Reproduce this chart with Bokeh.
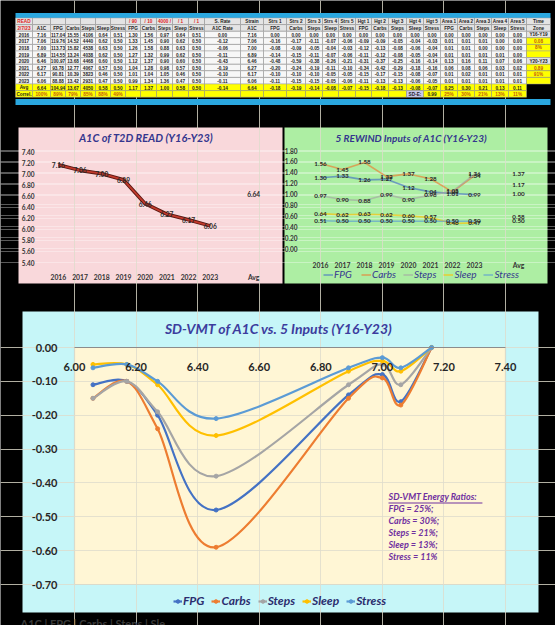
import numpy as np
from bokeh.plotting import figure
from bokeh.models import (Range1d, Legend, LegendItem, LinearAxis, Grid,
                          ColumnDataSource, FixedTicker, NumeralTickFormatter,
                          Label, BoxAnnotation)
from bokeh.embed import file_html
from bokeh.resources import INLINE
from bokeh.core.properties import value

# ---------------- data ----------------
years = ["2016", "2017", "2018", "2019", "2020", "2021", "2022", "2023"]
a1c = [7.16, 7.06, 7.00, 6.89, 6.46, 6.27, 6.17, 6.06]
a1c_avg = 6.64

fpg_raw = [117.04, 119.76, 113.73, 114.55, 100.97, 93.78, 90.81, 88.88]
carbs_raw = [15.55, 14.52, 15.82, 13.24, 13.68, 12.77, 10.39, 13.42]
steps_raw = [4106, 4440, 4538, 4038, 4468, 4067, 3823, 2931]
sleep_raw = [0.64, 0.62, 0.63, 0.62, 0.60, 0.57, 0.46, 0.47]
stress_raw = [0.51, 0.50, 0.50, 0.50, 0.50, 0.50, 0.50, 0.50]

inputs = ["FPG", "Carbs", "Steps", "Sleep", "Stress"]
norm_fpg = [1.30, 1.33, 1.26, 1.27, 1.12, 1.04, 1.01, 0.99]
norm_carbs = [1.56, 1.45, 1.58, 1.32, 1.37, 1.28, 1.04, 1.34]
norm_steps = [0.97, 0.90, 0.88, 0.99, 0.90, 0.98, 1.05, 1.36]
norm_sleep = [0.64, 0.62, 0.63, 0.62, 0.60, 0.57, 0.46, 0.47]
norm_stress = [0.51, 0.50, 0.50, 0.50, 0.50, 0.50, 0.50, 0.50]
norm_avg = [1.17, 1.37, 1.00, 0.58, 0.50]

s_rate = [0.00, -0.12, -0.06, -0.11, -0.43, -0.19, -0.10, -0.11]
strs_fpg = [0.00, -0.16, -0.08, -0.14, -0.48, -0.20, -0.10, -0.11]
strs_carbs = [0.00, -0.17, -0.09, -0.15, -0.59, -0.24, -0.10, -0.15]
strs_steps = [0.00, -0.11, -0.05, -0.11, -0.38, -0.19, -0.10, -0.15]
strs_sleep = [0.00, -0.07, -0.04, -0.07, -0.26, -0.11, -0.05, -0.05]
strs_stress = [0.00, -0.06, -0.03, -0.06, -0.21, -0.10, -0.05, -0.06]

hgt_fpg = [0.00, -0.09, -0.12, -0.11, -0.31, -0.34, -0.15, -0.11]
hgt_carbs = [0.00, -0.09, -0.13, -0.12, -0.37, -0.42, -0.17, -0.13]
hgt_steps = [0.00, -0.05, -0.08, -0.08, -0.25, -0.29, -0.15, -0.13]
hgt_sleep = [0.00, -0.04, -0.06, -0.05, -0.16, -0.18, -0.08, -0.06]
hgt_stress = [0.00, -0.03, -0.04, -0.04, -0.14, -0.16, -0.07, -0.05]

area_fpg = [0.00, 0.01, 0.01, 0.01, 0.13, 0.06, 0.01, 0.01]
area_carbs = [0.00, 0.01, 0.01, 0.01, 0.16, 0.08, 0.02, 0.01]
area_steps = [0.00, 0.01, 0.00, 0.01, 0.11, 0.06, 0.01, 0.01]
area_sleep = [0.00, 0.00, 0.00, 0.01, 0.07, 0.03, 0.01, 0.01]
area_stress = [0.00, 0.00, 0.00, 0.00, 0.06, 0.02, 0.01, 0.01]

time_zone = ["Y16-Y19", "0.08", "8%", "", "Y20-Y23", "0.89", "91%", ""]

avg_row = ["Avg", "6.64", "104.94", "13.67", "4050", "0.58", "0.50",
           "1.17", "1.37", "1.00", "0.58", "0.50", "-0.14", "6.64",
           "-0.18", "-0.19", "-0.14", "-0.08", "-0.07",
           "-0.15", "-0.18", "-0.13", "-0.08", "-0.07",
           "0.25", "0.30", "0.21", "0.13", "0.11"]
correl_row = (["Correl.", "100%", "89%", "79%", "85%", "88%", "49%"] + [""] * 15
              + ["SD-E:", "0.99", "25%", "30%", "21%", "13%", "11%"])

header1 = ["READ", "", "", "", "", "", "", "/ 90", "/ 10", "4000 /", "/ 1", "/ 1",
           "S. Rate", "Strain", "Strs 1", "Strs 2", "Strs 3", "Strs 4", "Strs 5",
           "Hgt 1", "Hgt 2", "Hgt 3", "Hgt 4", "Hgt 5",
           "Area 1", "Area 2", "Area 3", "Area 4", "Area 5", "Time"]
header2 = ["2/7/23", "A1C", "FPG", "Carbs", "Steps", "Sleep", "Stress",
           "FPG", "Carbs", "Steps", "Sleep", "Stress", "A1C Rate", "A1C",
           "FPG", "Carbs", "Steps", "Sleep", "Stress",
           "FPG", "Carbs", "Steps", "Sleep", "Stress",
           "FPG", "Carbs", "Steps", "Sleep", "Stress", "Zone"]

energy_pct = [25, 30, 21, 13, 11]
footer_text = "A1C  |  FPG  |  Carbs  |  Steps  |  Sle"

a1c_ticks = [5.4, 5.6, 5.8, 6.0, 6.2, 6.4, 6.6, 6.8, 7.0, 7.2, 7.4]
norm_ticks = [0.0, 0.2, 0.4, 0.6, 0.8, 1.0, 1.2, 1.4, 1.6, 1.8]
vmt_x_ticks = [6.0, 6.2, 6.4, 6.6, 6.8, 7.0, 7.2, 7.4]
vmt_y_ticks = [0.0, -0.1, -0.2, -0.3, -0.4, -0.5, -0.6, -0.7]
cats = years + [" ", "Avg"]

# ---------------- styles / page geometry ----------------
W, H = 555, 625
FONT = "Lato"
NAVY = "#34368E"
excel = ["#4472C4", "#ED7D31", "#A5A5A5", "#FFC000", "#5B9BD5"]
f2 = lambda v: f"{v:.2f}"

p = figure(width=W, height=H, x_range=Range1d(0, W), y_range=Range1d(H, 0),
           output_backend="svg", toolbar_location=None, min_border=0,
           x_axis_location=None, y_axis_location=None)
p.grid.visible = False
p.background_fill_color = "black"
p.border_fill_color = "black"
p.outline_line_color = None


def lin_range(val_at, px_at, px_per_unit, flip=False):
    """Range covering the page so that value `val_at` sits at page pixel `px_at`."""
    if not flip:
        return Range1d(val_at - px_at / px_per_unit, val_at + (W - px_at) / px_per_unit)
    return Range1d(val_at - (H - px_at) / px_per_unit, val_at + px_at / px_per_unit)


# panel boxes (page pixels)
for l, r, t, b, c in [(18, 282, 127, 283, "#F9D8DB"), (284, 547, 127, 283, "#ADEEA3"),
                      (22, 538, 311, 612, "#C6F6F8")]:
    p.add_layout(BoxAnnotation(left=l, right=r, top=t, bottom=b, fill_color=c,
                               fill_alpha=1.0, line_color=None, level="image"))

# ---------------- table ----------------
col_edges = [15, 32, 50, 65, 80, 95, 110, 125, 140, 156, 172, 188, 204, 240, 263,
             286, 305, 322, 338, 355, 371, 388, 406, 423, 440, 457, 474, 491, 508, 526, 550]
ROW_TOP, ROW_H = 17.5, 6.6

data_cols = [years, [f2(v) for v in a1c], [f2(v) for v in fpg_raw],
             [f2(v) for v in carbs_raw], [str(v) for v in steps_raw],
             [f2(v) for v in sleep_raw], [f2(v) for v in stress_raw]]
for arr in (norm_fpg, norm_carbs, norm_steps, norm_sleep, norm_stress, s_rate, a1c,
            strs_fpg, strs_carbs, strs_steps, strs_sleep, strs_stress,
            hgt_fpg, hgt_carbs, hgt_steps, hgt_sleep, hgt_stress,
            area_fpg, area_carbs, area_steps, area_sleep, area_stress):
    data_cols.append([f2(v) for v in arr])
data_cols.append(time_zone)
data_rows = [[col[i] for col in data_cols] for i in range(len(years))]
table_rows = [header1, header2] + data_rows + [avg_row, correl_row]

RED = "#E0201B"
ORANGE = "#C55A11"
cl, cr, ct, cb, cf = [], [], [], [], []
tx, ty, tt, tc = [], [], [], []
for r, vals in enumerate(table_rows):
    top = ROW_TOP + r * ROW_H
    for c, s in enumerate(vals):
        if r < 2:
            fill = "#E4E4E4"
        elif r < 2 + len(years):
            fill = "#F7F7F7"
            if c == 29:
                fill = "#E4E4E4" if s.startswith("Y") else "#FFFF00"
        else:
            fill = "#FFFF00"
            if s == "SD-E:":
                fill = "#C8C8EC"
        color = "#1E1E1E"
        if (r == 0 and (c == 0 or 7 <= c <= 11)) or (r == 1 and c == 0):
            color = RED
        if r == len(table_rows) - 1 and (1 <= c <= 6 or c >= 24):
            color = ORANGE
        if 2 <= r < 2 + len(years) and c == 29 and not s.startswith("Y"):
            color = ORANGE
        cl.append(col_edges[c]); cr.append(col_edges[c + 1])
        ct.append(top); cb.append(top + ROW_H); cf.append(fill)
        tx.append((col_edges[c] + col_edges[c + 1]) / 2)
        ty.append(top + ROW_H / 2 + 0.2)
        tt.append(s); tc.append(color)

p.quad(left=[15, 15], right=[550, 550], top=[12.5, 98.5], bottom=[17.5, 104.5],
       fill_color="#2AA7DF", line_color=None)
p.quad(left=cl, right=cr, top=ct, bottom=cb, fill_color=cf,
       line_color="#9C9C9C", line_width=0.5)
p.text(x=tx, y=ty, text=tt, text_color=tc, text_font=value("Liberation Sans"),
       text_font_size="4.7px", text_font_style="bold",
       text_align="center", text_baseline="middle")

# ---------------- small charts (categories placed by index) ----------------
cat_pos = {c: i for i, c in enumerate(cats)}
year_x = [cat_pos[y] for y in years]
avg_x = cat_pos["Avg"]
cat_ticks = [cat_pos[c] for c in cats if c.strip()]
cat_labels = {cat_pos[c]: c for c in cats if c.strip()}

p.extra_x_ranges["pink_x"] = lin_range(0, 57.85, 21.7)
p.extra_y_ranges["pink_y"] = lin_range(7.4, 151, 111 / 2.0, flip=True)
p.extra_x_ranges["green_x"] = lin_range(0, 320, 22.0)
p.extra_y_ranges["green_y"] = lin_range(1.8, 150, 98 / 1.8, flip=True)


def small_axes(xr, yr, yticks, y_lo, y_stand, x_stand):
    ya = LinearAxis(x_range_name=xr, y_range_name=yr, fixed_location=-0.5,
                    ticker=FixedTicker(ticks=yticks),
                    formatter=NumeralTickFormatter(format="0.00"))
    xa = LinearAxis(x_range_name=xr, y_range_name=yr, fixed_location=y_lo,
                    ticker=FixedTicker(ticks=cat_ticks), major_label_overrides=cat_labels)
    for ax in (ya, xa):
        ax.axis_line_color = None
        ax.major_tick_line_color = None
        ax.minor_tick_line_color = None
        ax.major_label_text_font = FONT
        ax.major_label_text_font_style = "bold"
        ax.major_label_text_color = "#333333"
    ya.major_label_text_font_size = "6.5px"
    xa.major_label_text_font_size = "6.8px"
    ya.major_label_standoff = y_stand
    xa.major_label_standoff = x_stand
    p.add_layout(ya, "left")
    p.add_layout(xa, "below")
    p.add_layout(Grid(dimension=1, x_range_name=xr, y_range_name=yr,
                      ticker=FixedTicker(ticks=yticks), bounds=(-0.5, len(cats) - 0.5),
                      grid_line_color="white", grid_line_alpha=0.35))


def data_labels(xs, ys, xr, yr, size):
    src = ColumnDataSource(dict(x=xs, y=ys, lab=[f2(v) for v in ys]))
    p.text("x", "y", text="lab", source=src, x_range_name=xr, y_range_name=yr,
           text_font=value(FONT), text_font_size=size, text_font_style="bold",
           text_color="#2A2A2A", text_align="center", text_baseline="middle")


# pink: A1C
small_axes("pink_x", "pink_y", a1c_ticks, 5.4, 7, 4)
p.line(year_x, a1c, x_range_name="pink_x", y_range_name="pink_y",
       line_color="#5A1712", line_width=3.6)
p.line(year_x, a1c, x_range_name="pink_x", y_range_name="pink_y",
       line_color="#C0392B", line_width=1.8)
data_labels(year_x, a1c, "pink_x", "pink_y", "6.6px")
data_labels([avg_x], [a1c_avg], "pink_x", "pink_y", "6.6px")
p.add_layout(Label(x=148, y=137, text="A1C of T2D READ   (Y16-Y23)", text_font=FONT,
                   text_font_style="bold italic", text_font_size="11px", text_color=NAVY,
                   text_align="center", text_baseline="middle"))

# green: normalised inputs
small_axes("green_x", "green_y", norm_ticks, 0.0, 6, 6)
norm_series = [norm_fpg, norm_carbs, norm_steps, norm_sleep, norm_stress]
g_items = []
for name, vals, col, av in zip(inputs, norm_series, excel, norm_avg):
    r = p.line(year_x, vals, x_range_name="green_x", y_range_name="green_y",
               line_color=col, line_alpha=0.65, line_width=1.6)
    g_items.append(LegendItem(label=name, renderers=[r]))
    data_labels(year_x, vals, "green_x", "green_y", "6.3px")
    data_labels([avg_x], [av], "green_x", "green_y", "6.3px")
p.add_layout(Label(x=413, y=137, text="5 REWIND  Inputs of A1C  (Y16-Y23)", text_font=FONT,
                   text_font_style="bold italic", text_font_size="10px", text_color=NAVY,
                   text_align="center", text_baseline="middle"))
p.add_layout(Legend(items=g_items, orientation="horizontal", location=(323, H - 280),
                    label_text_font=FONT, label_text_font_style="italic",
                    label_text_font_size="10px", label_text_color=NAVY,
                    glyph_width=10, glyph_height=11, label_height=11, label_standoff=1,
                    spacing=7, padding=0, margin=0, background_fill_alpha=0,
                    border_line_color=None))

# ---------------- big: SD-VMT ----------------
p.extra_x_ranges["big_x"] = lin_range(6.0, 74, 431 / 1.4)
p.extra_y_ranges["big_y"] = lin_range(0.0, 347, 237 / 0.7, flip=True)
BX, BY = dict(x_range_name="big_x"), dict(y_range_name="big_y")

p.add_layout(BoxAnnotation(left=6.0, right=7.4, bottom=-0.7, top=0.0, **BX, **BY,
                           fill_color="#FFF6D5", fill_alpha=1.0,
                           line_color="#8C8C8C", line_width=1.2, level="image"))
p.add_layout(Grid(dimension=0, **BX, **BY, ticker=FixedTicker(ticks=vmt_x_ticks),
                  bounds=(-0.7, 0.0), grid_line_color="#DEDCCB", grid_line_width=0.8))
p.add_layout(Grid(dimension=1, **BX, **BY, ticker=FixedTicker(ticks=vmt_y_ticks),
                  bounds=(6.0, 7.4), grid_line_color="#DEDCCB", grid_line_width=0.8))
bxa = LinearAxis(**BX, **BY, fixed_location=0.0, bounds=(6.0, 7.4),
                 ticker=FixedTicker(ticks=vmt_x_ticks),
                 formatter=NumeralTickFormatter(format="0.00"))
bya = LinearAxis(**BX, **BY, fixed_location=6.0, bounds=(-0.7, 0.0),
                 ticker=FixedTicker(ticks=vmt_y_ticks),
                 formatter=NumeralTickFormatter(format="0.00"))
for ax in (bxa, bya):
    ax.axis_line_color = "#8C8C8C"
    ax.major_tick_line_color = None
    ax.minor_tick_line_color = None
    ax.major_label_text_font = FONT
    ax.major_label_text_font_style = "bold"
    ax.major_label_text_font_size = "11px"
    ax.major_label_text_color = "#262626"
bya.axis_line_color = None
bxa.major_label_standoff = 9
bya.major_label_standoff = 11
p.add_layout(bxa, "below")
p.add_layout(bya, "left")


def bezier_segments(xs, ys):
    xs = np.asarray(xs, float)
    ys = np.asarray(ys, float)
    n = len(xs)
    d = {k: [] for k in ("x0", "y0", "x1", "y1", "cx0", "cy0", "cx1", "cy1")}
    for i in range(n - 1):
        i0 = max(i - 1, 0)
        i3 = min(i + 2, n - 1)
        d["x0"].append(xs[i]); d["y0"].append(ys[i])
        d["x1"].append(xs[i + 1]); d["y1"].append(ys[i + 1])
        d["cx0"].append(xs[i] + (xs[i + 1] - xs[i0]) / 6)
        d["cy0"].append(ys[i] + (ys[i + 1] - ys[i0]) / 6)
        d["cx1"].append(xs[i + 1] - (xs[i3] - xs[i]) / 6)
        d["cy1"].append(ys[i + 1] - (ys[i3] - ys[i]) / 6)
    return d


strs_series = [strs_fpg, strs_carbs, strs_steps, strs_sleep, strs_stress]
b_items = []
for name, vals, col in zip(inputs, strs_series, excel):
    bsrc = ColumnDataSource(bezier_segments(a1c, vals))
    br = p.bezier(x0="x0", y0="y0", x1="x1", y1="y1", cx0="cx0", cy0="cy0",
                  cx1="cx1", cy1="cy1", source=bsrc, line_color=col, line_width=2.2, **BX, **BY)
    sr = p.scatter(x=a1c, y=vals, marker="circle", size=4, color=col, **BX, **BY)
    b_items.append(LegendItem(label=name, renderers=[br, sr]))
p.add_layout(Legend(items=b_items, orientation="horizontal", location=(173, H - 608),
                    label_text_font=FONT, label_text_font_style="bold italic",
                    label_text_font_size="12px", label_text_color="#2B2D6E",
                    glyph_width=9, glyph_height=12, label_height=12, label_standoff=1,
                    spacing=7, padding=0, margin=0, background_fill_alpha=0,
                    border_line_color=None))
p.add_layout(Label(x=280, y=328, text="SD-VMT of A1C vs. 5 Inputs  (Y16-Y23)", text_font=FONT,
                   text_font_style="bold italic", text_font_size="14px", text_color="#3C3C9E",
                   text_align="center", text_baseline="middle"))

PURPLE = "#7030A0"
ratio_lines = ["SD-VMT Energy Ratios:"] + [
    f"{n} = {v}%" + (";" if i < len(inputs) - 1 else "")
    for i, (n, v) in enumerate(zip(inputs, energy_pct))]
LX, LY0, LDY = 7.02, -0.441, 0.0353
for i, t in enumerate(ratio_lines):
    p.add_layout(Label(x=LX, y=LY0 - i * LDY, text=t, **BX, **BY, text_font=FONT,
                       text_font_style="bold italic", text_font_size="9px",
                       text_color=PURPLE, text_baseline="middle", text_align="left"))
p.add_layout(BoxAnnotation(left=LX, right=LX + 0.305, top=LY0 - 0.0165, bottom=LY0 - 0.0195,
                           **BX, **BY, fill_color=PURPLE, fill_alpha=1.0, line_color=None,
                           level="overlay"))

# footer (cut-off caption below the chart)
p.add_layout(Label(x=20, y=616, text=footer_text, text_font=FONT, text_font_style="bold",
                   text_font_size="11px", text_color="#3A3A3A", text_baseline="top"))

open("out.html", "w").write(file_html(p, INLINE))
